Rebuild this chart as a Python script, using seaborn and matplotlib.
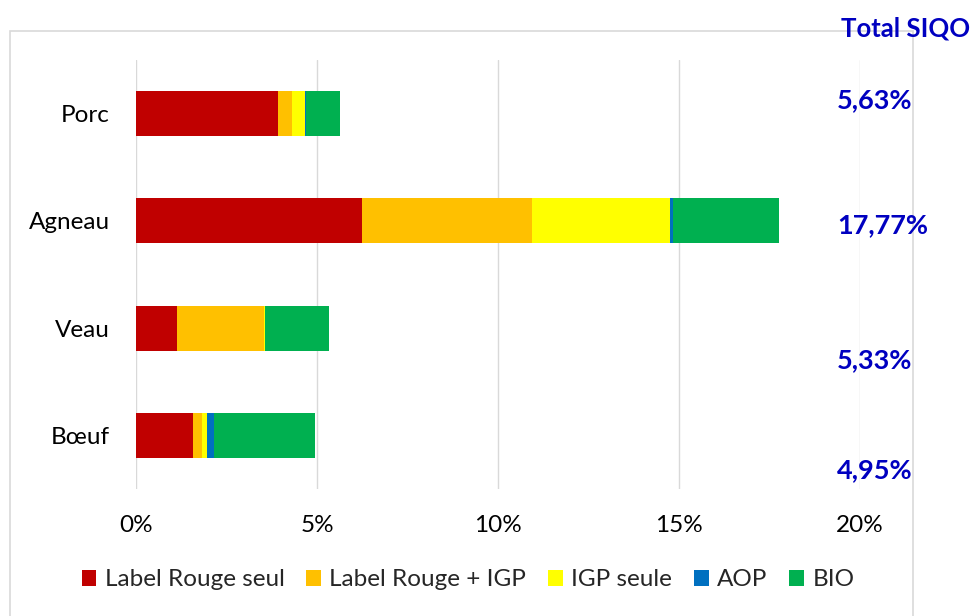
import numpy as np
import pandas as pd
import matplotlib
matplotlib.use("Agg")
import matplotlib.pyplot as plt
from matplotlib.patches import Patch, Rectangle
from matplotlib.ticker import FuncFormatter
import seaborn as sns

# Data (share of production, %)
categories = ["Porc", "Agneau", "Veau", "Bœuf"]
series = ["Label Rouge seul", "Label Rouge + IGP", "IGP seule", "AOP", "BIO"]
label_rouge = [3.93, 6.23, 1.14, 1.58]
label_rouge_igp = [0.37, 4.70, 2.39, 0.24]
igp_seule = [0.36, 3.83, 0.04, 0.14]
aop = [0.03, 0.08, 0.00, 0.19]
bio = [0.94, 2.93, 1.76, 2.80]
colors = ["#C00000", "#FFC000", "#FFFF00", "#0070C0", "#00B050"]

df = pd.DataFrame({"Categorie": categories, series[0]: label_rouge, series[1]: label_rouge_igp,
                   series[2]: igp_seule, series[3]: aop, series[4]: bio})
cum = df[series].cumsum(axis=1)
cum["Categorie"] = df["Categorie"]
totals = df[series].sum(axis=1)

sns.set_theme(style="white")
plt.rcParams["font.family"] = ["Lato", "DejaVu Sans"]

fig = plt.figure(figsize=(9.72, 6.16), dpi=100)
ax = fig.add_axes([136 / 972, 1 - 489 / 616, 724 / 972, 429 / 616])

# stacked bars: draw cumulative sums from the last series back to the first
for name, col in reversed(list(zip(series, colors))):
    sns.barplot(data=cum, x=name, y="Categorie", order=categories, orient="h",
                color=col, saturation=1, width=0.42, linewidth=0, ax=ax)

ax.set_xlim(0, 20)
ax.set_xticks([0, 5, 10, 15, 20])
ax.xaxis.set_major_formatter(FuncFormatter(lambda v, p: f"{v:.0f}%"))
ax.grid(axis="x", color="#D9D9D9", linewidth=1)
ax.set_axisbelow(True)
for s in ax.spines.values():
    s.set_visible(False)
ax.set_xlabel("")
ax.set_ylabel("")
ax.tick_params(axis="x", length=0, pad=19, labelsize=17.5, labelcolor="black")
ax.tick_params(axis="y", length=0, pad=19, labelsize=17.5, labelcolor="black")

# chart border
fig.patches.append(Rectangle((10 / 972, -0.01), 903 / 972, 1 - 31 / 616 + 0.01,
                             transform=fig.transFigure, fill=False,
                             edgecolor="#D9D9D9", linewidth=1.2, zorder=0))

blue = "#0000C0"
fig.text(906 / 972, 1 - 28 / 616, "Total SIQO", ha="center", va="center",
         fontsize=18.5, fontweight="bold", color=blue)
label_y = [100, 225, 360, 470]
for tot, yy in zip(totals, label_y):
    fig.text(837 / 972, 1 - yy / 616, f"{tot:.2f}%".replace(".", ","), ha="left",
             va="center", fontsize=19.5, fontweight="bold", color=blue)

handles = [Patch(facecolor=c, edgecolor="none", label=n) for n, c in zip(series, colors)]
fig.legend(handles=handles, loc="center", bbox_to_anchor=(468 / 972, 1 - 580 / 616),
           ncol=5, frameon=False, fontsize=17.5, handlelength=0.6, handleheight=0.6,
           handletextpad=0.35, columnspacing=0.9)

plt.savefig("out.png", dpi=100)
